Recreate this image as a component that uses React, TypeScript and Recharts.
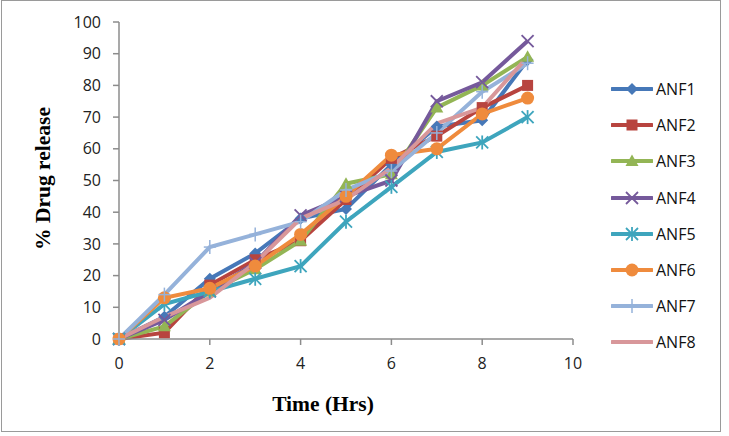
import React from 'react';
import { LineChart, Line, XAxis, YAxis, Legend } from 'recharts';

// Release time points (hours)
const hours = [0, 1, 2, 3, 4, 5, 6, 7, 8, 9];

// Cumulative % drug release for each formulation
const anf1 = [0, 7, 19, 27, 38, 41, 55, 67, 69, 88];
const anf2 = [0, 2, 17, 25, 31, 44, 57, 64, 73, 80];
const anf3 = [0, 4, 15, 22, 31, 49, 52, 73, 80, 89];
const anf4 = [0, 6, 15, 24, 39, 45, 50, 75, 81, 94];
const anf5 = [0, 11, 15, 19, 23, 37, 48, 59, 62, 70];
const anf6 = [0, 13, 16, 23, 33, 45, 58, 60, 71, 76];
const anf7 = [0, 14, 29, 33, 37, 47, 53, 65, 78, 87];
const anf8 = [0, 7, 13, 24, 38, 44, 54, 68, 73, 89];

const xTicks = [0, 2, 4, 6, 8, 10];
const yTicks = [0, 10, 20, 30, 40, 50, 60, 70, 80, 90, 100];

type MarkerKind = 'diamond' | 'square' | 'triangle' | 'cross' | 'star' | 'circle' | 'plus' | 'none';

const seriesDefs: { key: string; name: string; values: number[]; color: string; marker: MarkerKind }[] = [
  { key: 'anf1', name: 'ANF1', values: anf1, color: '#4678b8', marker: 'diamond' },
  { key: 'anf2', name: 'ANF2', values: anf2, color: '#b8443f', marker: 'square' },
  { key: 'anf3', name: 'ANF3', values: anf3, color: '#93b555', marker: 'triangle' },
  { key: 'anf4', name: 'ANF4', values: anf4, color: '#75599b', marker: 'cross' },
  { key: 'anf5', name: 'ANF5', values: anf5, color: '#3ea5bd', marker: 'star' },
  { key: 'anf6', name: 'ANF6', values: anf6, color: '#ef8b3d', marker: 'circle' },
  { key: 'anf7', name: 'ANF7', values: anf7, color: '#95b2da', marker: 'plus' },
  { key: 'anf8', name: 'ANF8', values: anf8, color: '#d8979a', marker: 'none' },
];

const rows = hours.map((h, i) => {
  const row: Record<string, number> = { time: h };
  seriesDefs.forEach((s) => {
    row[s.key] = s.values[i];
  });
  return row;
});

function Marker({ kind, cx, cy, color }: { kind: MarkerKind; cx: number; cy: number; color: string }) {
  switch (kind) {
    case 'diamond':
      return <polygon points={`${cx},${cy - 6} ${cx + 6},${cy} ${cx},${cy + 6} ${cx - 6},${cy}`} fill={color} />;
    case 'square':
      return <rect x={cx - 5.5} y={cy - 5.5} width={11} height={11} fill={color} />;
    case 'triangle':
      return <polygon points={`${cx},${cy - 6.5} ${cx + 6.5},${cy + 5} ${cx - 6.5},${cy + 5}`} fill={color} />;
    case 'cross':
      return (
        <g stroke={color} strokeWidth={1.8}>
          <line x1={cx - 6} y1={cy - 6} x2={cx + 6} y2={cy + 6} />
          <line x1={cx - 6} y1={cy + 6} x2={cx + 6} y2={cy - 6} />
        </g>
      );
    case 'star':
      return (
        <g stroke={color} strokeWidth={1.8}>
          <line x1={cx - 6} y1={cy - 6} x2={cx + 6} y2={cy + 6} />
          <line x1={cx - 6} y1={cy + 6} x2={cx + 6} y2={cy - 6} />
          <line x1={cx} y1={cy - 7} x2={cx} y2={cy + 7} />
        </g>
      );
    case 'circle':
      return <circle cx={cx} cy={cy} r={6.5} fill={color} />;
    case 'plus':
      return (
        <g stroke={color} strokeWidth={1.5}>
          <line x1={cx} y1={cy - 7} x2={cx} y2={cy + 7} />
          <line x1={cx - 6} y1={cy} x2={cx + 6} y2={cy} />
        </g>
      );
    default:
      return null;
  }
}

const LegendBox = () => (
  <div style={{ fontFamily: '"Open Sans", sans-serif', fontSize: 16, color: '#111' }}>
    {seriesDefs.map((s) => (
      <div key={s.key} style={{ height: 36.2, display: 'flex', alignItems: 'center' }}>
        <svg width={42} height={20} style={{ display: 'block' }}>
          <line x1={1} y1={10} x2={41} y2={10} stroke={s.color} strokeWidth={4} strokeLinecap="round" />
          <Marker kind={s.marker} cx={21} cy={10} color={s.color} />
        </svg>
        <span style={{ marginLeft: 3, lineHeight: '20px' }}>{s.name}</span>
      </div>
    ))}
  </div>
);

const YTitle = (props: any) => {
  const vb = props.viewBox || { x: 0, y: 0, width: 0, height: 0 };
  const cx = vb.x + 43;
  const cy = vb.y + vb.height / 2 - 2;
  return (
    <text
      x={cx}
      y={cy}
      transform={`rotate(-90, ${cx}, ${cy})`}
      textAnchor="middle"
      dominantBaseline="central"
      fontFamily='"Liberation Serif", "Times New Roman", serif'
      fontWeight="bold"
      fontSize={21.5}
      fill="#000"
    >
      % Drug release
    </text>
  );
};

const XTitle = (props: any) => {
  const vb = props.viewBox || { x: 0, y: 0, width: 0, height: 0 };
  const cx = vb.x + vb.width / 2 - 23;
  const baseline = vb.y + vb.height;
  return (
    <text
      x={cx}
      y={baseline}
      textAnchor="middle"
      fontFamily='"Liberation Serif", "Times New Roman", serif'
      fontWeight="bold"
      fontSize={21.5}
      fill="#000"
    >
      Time (Hrs)
    </text>
  );
};

const tickStyle = { fontFamily: '"Open Sans", sans-serif', fontSize: 16, fill: '#222' };

export default function App() {
  return (
    <div style={{ position: 'absolute', left: 0, top: 0, width: 729, height: 436, background: '#fff' }}>
      <div
        style={{
          position: 'absolute',
          left: 1,
          top: 0,
          width: 718,
          height: 430,
          border: '1.5px solid #9a9a9a',
          pointerEvents: 'none',
        }}
      />
      <LineChart width={729} height={436} data={rows} margin={{ top: 22, right: 46, bottom: 25, left: 0 }}>
        <XAxis
          dataKey="time"
          type="number"
          domain={[0, 10]}
          ticks={xTicks}
          height={72}
          tickSize={6}
          tickMargin={13}
          tick={tickStyle}
          axisLine={{ stroke: '#8c8c8c', strokeWidth: 1.5 }}
          tickLine={{ stroke: '#8c8c8c', strokeWidth: 1.5 }}
          label={<XTitle />}
        />
        <YAxis
          type="number"
          domain={[0, 100]}
          ticks={yTicks}
          width={119}
          tickSize={6}
          tickMargin={12}
          tick={tickStyle}
          axisLine={{ stroke: '#8c8c8c', strokeWidth: 1.5 }}
          tickLine={{ stroke: '#8c8c8c', strokeWidth: 1.5 }}
          label={<YTitle />}
        />
        <Legend
          layout="vertical"
          align="right"
          verticalAlign="top"
          content={<LegendBox />}
          wrapperStyle={{ left: 611, top: 71, width: 110 }}
        />
        {seriesDefs.map((s) => (
          <Line
            key={s.key}
            dataKey={s.key}
            name={s.name}
            stroke={s.color}
            strokeWidth={4}
            isAnimationActive={false}
            dot={(p: any) => <Marker key={`${s.key}-${p.index}`} kind={s.marker} cx={p.cx} cy={p.cy} color={s.color} />}
            activeDot={false}
          />
        ))}
      </LineChart>
    </div>
  );
}
